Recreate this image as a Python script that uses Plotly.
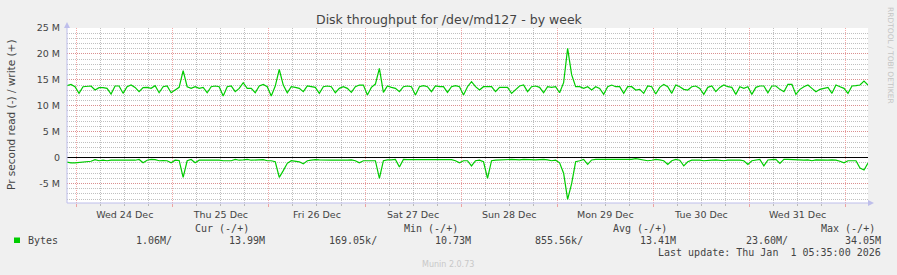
import pandas as pd
import plotly.graph_objects as go

# ---------------- data (hourly samples, values in M bytes/s) ----------------
START = "2025-12-23 21:35"
write_M = [
    13.87, 14.13, 13.68, 12.40, 13.68, 13.81, 13.81, 13.04, 13.49, 13.49,
    13.36, 12.27, 13.81, 13.81, 12.40, 13.68, 14.00, 13.55, 12.72, 13.49,
    13.55, 13.36, 13.87, 12.52, 13.68, 13.81, 12.52, 13.04, 13.55, 16.80,
    13.68, 13.36, 13.68, 13.36, 13.55, 12.52, 13.68, 13.81, 13.68, 11.88,
    13.68, 13.81, 12.72, 13.36, 14.45, 13.36, 13.36, 12.52, 13.81, 14.13,
    13.68, 11.88, 13.81, 17.00, 14.00, 12.52, 13.68, 13.55, 13.36, 12.72,
    13.81, 13.68, 13.55, 12.40, 13.68, 13.81, 13.68, 12.52, 13.36, 13.68,
    13.36, 12.59, 13.68, 14.00, 14.00, 12.07, 13.55, 14.19, 17.20, 12.59,
    13.81, 13.55, 13.36, 12.72, 13.68, 13.81, 13.68, 12.07, 13.68, 13.87,
    13.68, 12.72, 13.81, 13.68, 13.68, 12.59, 13.68, 13.87, 13.68, 12.07,
    13.68, 14.64, 13.68, 13.04, 13.68, 13.68, 13.68, 12.72, 13.55, 13.55,
    13.55, 12.40, 13.17, 13.81, 14.00, 12.72, 13.68, 13.81, 13.55, 12.52,
    13.68, 13.55, 13.68, 12.52, 14.45, 21.07, 16.00, 13.68, 13.68, 13.36,
    13.68, 13.04, 13.68, 13.36, 12.20, 13.68, 14.00, 13.68, 13.68, 12.40,
    13.68, 13.68, 13.04, 13.17, 12.40, 13.81, 13.68, 12.27, 13.55, 14.13,
    13.68, 12.40, 14.00, 13.68, 13.17, 13.04, 13.68, 13.81, 13.36, 12.20,
    13.55, 13.81, 12.72, 13.55, 14.00, 13.68, 13.55, 12.20, 13.68, 13.36,
    13.68, 12.20, 13.55, 13.81, 13.81, 12.52, 13.81, 13.81, 13.17, 12.72,
    14.13, 14.13, 12.20, 13.17, 13.68, 14.00, 13.36, 12.72, 13.17, 13.36,
    13.55, 12.40, 14.00, 13.68, 13.36, 12.40, 13.81, 13.87, 14.00, 14.77,
    13.99,
]
read_M = [
    0.85, 1.00, 1.00, 0.90, 0.85, 0.80, 0.70, 0.40, 0.60, 0.50,
    0.60, 0.50, 0.50, 0.50, 0.50, 0.50, 0.45, 0.50, 0.35, 1.00,
    0.50, 0.35, 0.40, 0.60, 0.55, 0.60, 1.00, 0.50, 0.55, 3.80,
    0.60, 0.35, 0.98, 0.50, 0.50, 0.50, 0.45, 0.50, 0.50, 0.60,
    0.55, 0.60, 0.35, 0.50, 0.45, 0.35, 0.50, 0.45, 0.35, 0.40,
    0.60, 0.60, 0.80, 3.80, 2.50, 1.10, 0.60, 0.70, 0.80, 1.20,
    0.60, 0.50, 0.40, 0.45, 0.50, 0.45, 0.50, 0.50, 0.45, 0.50,
    0.50, 0.45, 0.60, 1.00, 0.60, 0.55, 0.60, 0.60, 4.00, 0.60,
    0.45, 0.45, 0.35, 1.80, 0.35, 0.40, 0.40, 0.35, 0.40, 0.35,
    0.45, 0.35, 0.40, 0.35, 0.40, 0.45, 0.40, 0.60, 1.00, 0.60,
    0.60, 1.60, 0.60, 0.50, 0.80, 4.00, 0.60, 0.50, 0.45, 0.40,
    0.45, 0.35, 0.40, 0.45, 0.35, 0.40, 0.35, 0.45, 0.40, 0.35,
    0.45, 0.60, 0.50, 1.00, 3.00, 8.05, 5.00, 0.80, 0.60, 0.35,
    1.30, 0.45, 0.35, 0.35, 0.40, 0.35, 0.35, 0.40, 0.35, 0.35,
    0.40, 0.35, 0.20, 0.35, 0.45, 0.60, 0.50, 0.35, 0.45, 0.60,
    1.30, 0.60, 0.35, 0.50, 1.60, 0.80, 0.50, 0.45, 0.50, 0.60,
    0.50, 0.50, 0.45, 0.50, 0.60, 0.50, 0.50, 0.45, 0.50, 0.60,
    1.30, 0.60, 0.50, 0.35, 1.60, 0.45, 0.40, 0.35, 1.10, 0.35,
    0.35, 0.40, 0.35, 0.45, 0.50, 0.45, 0.60, 0.45, 0.50, 0.45,
    0.50, 0.45, 0.50, 0.70, 1.00, 0.60, 0.60, 0.60, 2.00, 2.40,
    1.06,
]
y_tickvals = [-5, 0, 5, 10, 15, 20, 25]
y_ticktext = ["-5 M", "0", "5 M", "10 M", "15 M", "20 M", "25 M"]
y_range = [-8.75, 25]

title_text = "Disk throughput for /dev/md127 - by week"
ytitle_text = "Pr second read (-) / write (+)"
series_name = "Bytes"
col_headers = ["Cur (-/+)", "Min (-/+)", "Avg (-/+)", "Max (-/+)"]
stat_values = ["1.06M/", "13.99M", "169.05k/", "10.73M",
               "855.56k/", "13.41M", "23.60M/", "34.05M"]
last_update = "Last update: Thu Jan\u00a0 1 05:35:00 2026"
credit = "RRDTOOL / TOBI OETIKER"
footer = "Munin 2.0.73"

# ---------------- layout constants ----------------
W, H = 897, 275
L, R_EDGE, T, B_EDGE = 67, 868, 28, 203
PW, PH = R_EDGE - L, B_EDGE - T
GREEN = "#00CC00"
TXT = "#444444"
SANS = "DejaVu Sans"
MONO = "DejaVu Sans Mono"


def px(x):
    return (x - L) / PW


def py(y):
    return (B_EDGE - y) / PH


times = pd.date_range(START, periods=len(write_M), freq="1h")

fig = go.Figure()
fig.add_trace(go.Scatter(x=times, y=write_M, mode="lines",
                         line=dict(color=GREEN, width=1.2), hoverinfo="skip"))
fig.add_trace(go.Scatter(x=times, y=[-v for v in read_M], mode="lines",
                         line=dict(color=GREEN, width=1.2), hoverinfo="skip"))

MAJ = "rgba(235,110,110,0.6)"
MIN = "rgba(150,150,150,0.6)"
DOT = "1px,1px"

fig.update_layout(
    width=W, height=H,
    margin=dict(l=L, r=W - R_EDGE, t=T, b=H - B_EDGE, pad=0),
    paper_bgcolor="#F0F0F0", plot_bgcolor="#FFFFFF",
    showlegend=False,
    font=dict(family=SANS, color=TXT, size=10),
    xaxis=dict(
        type="date", range=[times[0], times[-1]],
        dtick=86400000, tick0="2025-12-24", ticklabelmode="period",
        tickformat="%a %d %b", tickfont=dict(size=9.5, color=TXT),
        showgrid=True, gridcolor=MAJ, griddash=DOT, gridwidth=1,
        ticks="outside", ticklen=3, tickcolor=MAJ,
        minor=dict(dtick=21600000, showgrid=True, gridcolor=MIN,
                   griddash=DOT, ticks="outside", ticklen=2, tickcolor=MIN),
        showline=False, zeroline=False, fixedrange=True,
    ),
    yaxis=dict(
        range=y_range, tickvals=y_tickvals, ticktext=y_ticktext,
        tickfont=dict(size=9.5, color=TXT),
        showgrid=True, gridcolor=MAJ, griddash=DOT, gridwidth=1,
        minor=dict(dtick=1, showgrid=True, gridcolor=MIN, griddash=DOT),
        ticks="", ticklabelstandoff=6,
        zeroline=True, zerolinecolor="#000000", zerolinewidth=1.2,
        showline=False, fixedrange=True,
    ),
)

AXC = "rgb(190,190,235)"
shapes = [
    dict(type="line", xref="paper", yref="paper", x0=0, x1=0, y0=0, y1=1,
         line=dict(color=AXC, width=1)),
    dict(type="line", xref="paper", yref="paper", x0=0, x1=1, y0=0, y1=0,
         line=dict(color=AXC, width=1)),
    dict(type="path", xref="paper", yref="paper", xsizemode="pixel",
         ysizemode="pixel", xanchor=0, yanchor=1,
         path="M -3,0 L 3,0 L 0,6 Z", fillcolor=AXC, line=dict(width=0)),
    dict(type="path", xref="paper", yref="paper", xsizemode="pixel",
         ysizemode="pixel", xanchor=1, yanchor=0,
         path="M 0,-3 L 0,3 L 6,0 Z", fillcolor=AXC, line=dict(width=0)),
    dict(type="rect", xref="paper", yref="paper", x0=px(14), x1=px(20),
         y0=py(243), y1=py(237.5), fillcolor=GREEN, line=dict(width=0)),
]
fig.update_layout(shapes=shapes)

ann = []


def add_text(text, x, y, anchor="left", size=10, color=TXT, family=MONO, angle=0):
    ann.append(dict(text=text, x=px(x), y=py(y), xref="paper", yref="paper",
                    xanchor=anchor, yanchor="middle", showarrow=False,
                    textangle=angle, font=dict(size=size, color=color, family=family)))


add_text(title_text, 449, 19, anchor="center", size=12.5, family=SANS, color="#444444")
add_text(ytitle_text, 11, 115, anchor="center", size=10.5, family=SANS, angle=-90)
add_text(credit, 890, 55, anchor="center", size=7.5, family=SANS, color="#C4C4C4", angle=90)
for hdr, xr in zip(col_headers, [251, 460, 669, 877]):
    add_text(hdr, xr, 228, anchor="right")
add_text(series_name, 26, 240.5)
for val, xr in zip(stat_values, [174, 267, 379, 473, 585, 678, 790, 883]):
    add_text(val, xr, 240.5, anchor="right")
add_text(last_update, 883, 252, anchor="right")
add_text(footer, 448, 264.5, anchor="center", size=8, family=SANS, color="#C8C8C8")
fig.update_layout(annotations=ann)

fig.write_html("out.html", config={"displayModeBar": False})
